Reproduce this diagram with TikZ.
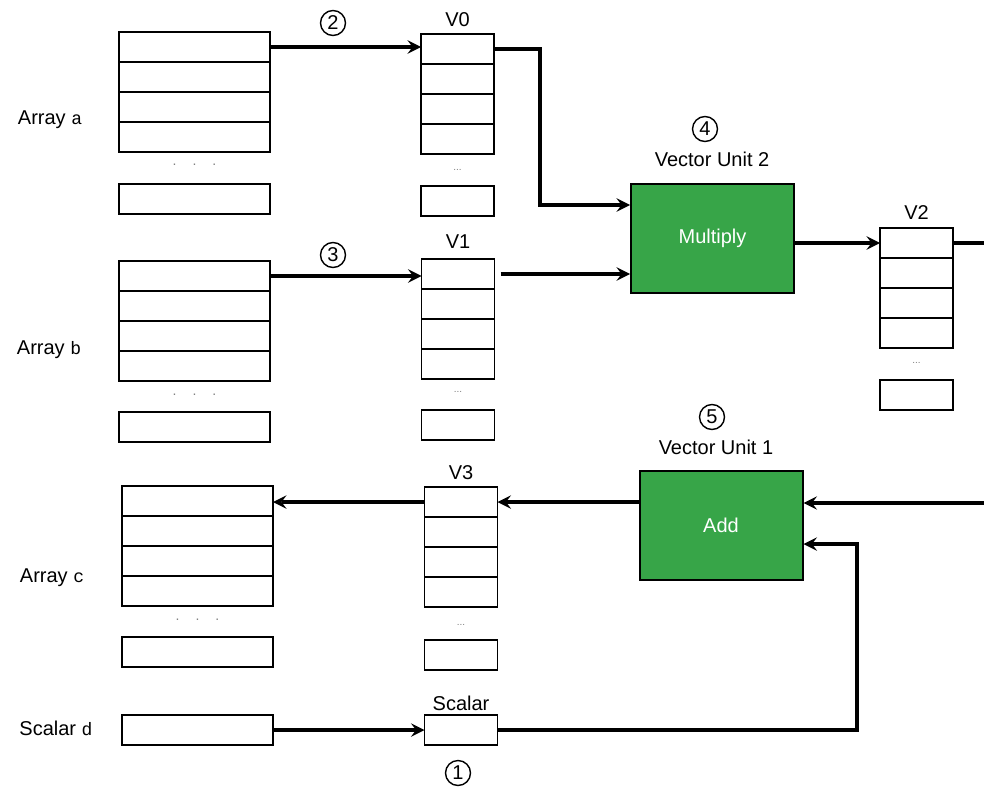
\documentclass[tikz,border=0pt]{standalone}
\usepackage{fontspec}
\setmainfont{Liberation Sans}
\setmonofont{Liberation Mono}
\definecolor{unitgreen}{RGB}{55,165,72}

\begin{document}
\begin{tikzpicture}[x=0.5pt, y=-0.5pt, >=stealth,
    cell/.style={draw, line width=0.8pt, minimum width=75.5pt, minimum height=15pt, inner sep=0pt, outer sep=0pt},
    reg/.style={cell, minimum width=36.5pt},
    unit/.style={draw, line width=1pt, fill=unitgreen, text=white, minimum width=81.5pt, minimum height=54.5pt},
    num/.style={circle, draw, line width=0.7pt, inner sep=0pt, minimum size=12.5pt},
    vdots/.style={font=\tiny, text=gray},
    adots/.style={font=\scriptsize, text=gray},
    flow/.style={->, line width=1.9pt}]
    \useasboundingbox (0,0) rectangle (984,792);

    % memory arrays
    \foreach \i in {0,...,3} {
        \node[cell] (a\i) at (194.5,47+30*\i) {};
        \node[cell] (b\i) at (194.5,276+30*\i) {};
        \node[cell] (c\i) at (197.5,501+30*\i) {};
    }
    \node[cell] (an) at (194.5,199) {};
    \node[cell] (bn) at (194.5,427) {};
    \node[cell] (cn) at (197.5,652) {};
    \node[cell] (d) at (197.5,730) {};
    \node[adots] (adots) at (194.5,165) {.\hspace{8pt}.\hspace{8pt}.};
    \node[adots] (bdots) at (194.5,395) {.\hspace{8pt}.\hspace{8pt}.};
    \node[adots] (cdots) at (197.5,620) {.\hspace{8pt}.\hspace{8pt}.};

    \node (alabel) at (50,120) {Array {\small\texttt{a}}};
    \node (blabel) at (49,350) {Array {\small\texttt{b}}};
    \node (clabel) at (52,578) {Array {\small\texttt{c}}};
    \node (dlabel) at (56,728) {Scalar {\small\texttt{d}}};

    % vector registers
    \foreach \i in {0,...,3} {
        \node[reg] (v0\i) at (457.5,49+30*\i) {};
        \node[reg] (v1\i) at (458,274+30*\i) {};
        \node[reg] (v2\i) at (916.5,243+30*\i) {};
        \node[reg] (v3\i) at (461,502+30*\i) {};
    }
    \node[reg] (v0n) at (457.5,201) {};
    \node[reg] (v1n) at (458,425) {};
    \node[reg] (v2n) at (916.5,395) {};
    \node[reg] (v3n) at (461,655) {};
    \node[reg] (sc) at (461,730) {};
    \node[vdots] (v0dots) at (457.5,170) {...};
    \node[vdots] (v1dots) at (458,392) {...};
    \node[vdots] (v2dots) at (916.5,363) {...};
    \node[vdots] (v3dots) at (461,625) {...};

    \node (v0label) at (457.5,20) {V0};
    \node (v1label) at (458,242) {V1};
    \node (v2label) at (916.5,213) {V2};
    \node (v3label) at (461,473) {V3};
    \node (sclabel) at (461,703) {Scalar};

    % vector units
    \node[unit] (mul) at (712.5,238.5) {Multiply};
    \node[unit] (add) at (721,525.5) {Add};
    \node (mullabel) at (712,159) {Vector Unit 2};
    \node (addlabel) at (716,447) {Vector Unit 1};

    % step numbers
    \node[num] (n1) at (458,773) {1};
    \node[num] (n2) at (333,23) {2};
    \node[num] (n3) at (333,255) {3};
    \node[num] (n4) at (705,129) {4};
    \node[num] (n5) at (712,417) {5};

    % data flow
    \coordinate (vout) at (984,243);
    \coordinate (addin) at (984,503);
    \coordinate (turn) at (857,544);
    \draw[flow] (d.east) -- (sc.west);
    \draw[flow] (a0.east) -- (a0.east -| v00.west);
    \draw[flow] (b0.east) -- (b0.east -| v10.west);
    \draw[flow] (v00.east) -| (540,205) -- ([yshift=16.75pt]mul.west);
    \draw[flow] ([xshift=3pt]v10.east) -- (v10.east -| mul.west);
    \draw[flow] (mul.east |- v20.west) -- (v20.west);
    \draw[line width=1.9pt] (v20.east) -- (vout);
    \draw[flow] (addin) -- (addin -| add.east);
    \draw[flow] (sc.east) -| (turn) -- (turn -| add.east);
    \draw[flow] (add.west |- v30.east) -- (v30.east);
    \draw[flow] (v30.west) -- (v30.west -| c0.east);
\end{tikzpicture}
\end{document}
